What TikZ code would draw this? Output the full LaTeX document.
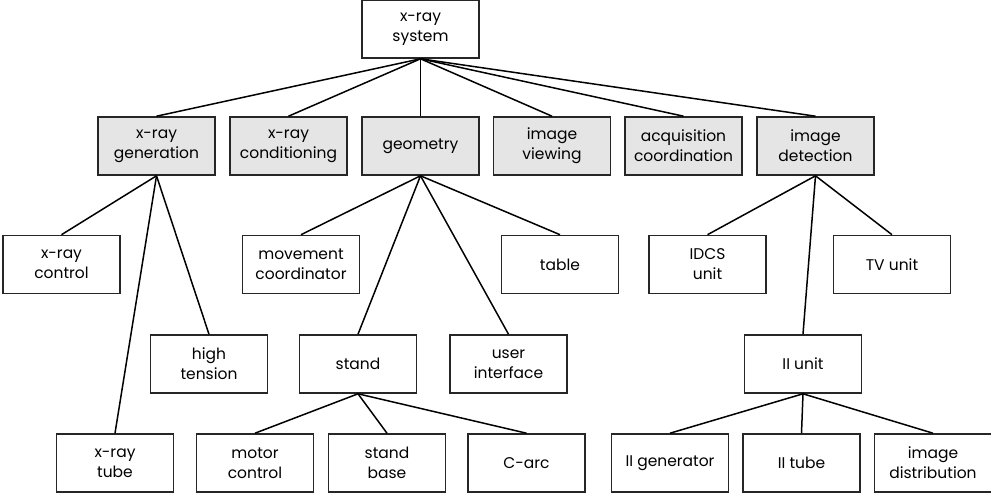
\documentclass[tikz,border=0pt]{standalone}
\usepackage{fontspec}
\setmainfont{Poppins}
\usepackage{tikz}
\usetikzlibrary{positioning}

\begin{document}
\begin{tikzpicture}[x=1pt,y=-1pt,
  unit/.style={draw=black!85,line width=1.6pt,minimum width=117pt,minimum height=58pt,
    inner sep=1pt,align=center,font=\fontsize{15.5}{20}\selectfont},
  group/.style={unit,fill=black!10},
  link/.style={line width=1.5pt}]
\useasboundingbox (0,0) rectangle (991,496);
%top
\node[unit]  (sys)  at (420.5,29) {x-ray\\system};
%subsystems
\node[group] (gen)  at (156.5,146) {x-ray\\generation};
\node[group] (cond) at (288.5,146) {x-ray\\conditioning};
\node[group] (geo)  at (420.5,146) {geometry};
\node[group] (view) at (552,146)   {image\\viewing};
\node[group] (acq)  at (683.5,146) {acquisition\\coordination};
\node[group] (det)  at (815.5,146) {image\\detection};
%third row
\node[unit] (ctrl)  at (61.5,264.5) {x-ray\\control};
\node[unit] (move)  at (301,264.5)  {movement\\coordinator};
\node[unit] (tab)   at (560,264.5)  {table};
\node[unit] (idcs)  at (707.5,264.5) {IDCS\\unit};
\node[unit] (tv)    at (892,264.5)  {TV unit};
%fourth row
\node[unit] (ht)    at (209,364)    {high\\tension};
\node[unit] (stand) at (358,364)    {stand};
\node[unit] (ui)    at (508.5,364)  {user\\interface};
\node[unit] (ii)    at (803,364)    {II unit};
%bottom
\node[unit] (tube)  at (115,463)    {x-ray\\tube};
\node[unit] (motor) at (255,463)    {motor\\control};
\node[unit] (base)  at (387,463)    {stand\\base};
\node[unit] (carc)  at (526.5,463)  {C-arc};
\node[unit] (iigen) at (670,463)    {II generator};
\node[unit] (iitube) at (801.5,463) {II tube};
\node[unit] (dist)  at (933,463)    {image\\distribution};
%edges
\foreach \c in {gen,cond,geo,view,acq,det}
  \draw[link] (sys.south) -- (\c.north);
\foreach \c in {ctrl,ht,tube}
  \draw[link] (gen.south) -- (\c.north);
\foreach \c in {move,stand,ui,tab}
  \draw[link] (geo.south) -- (\c.north);
\foreach \c in {idcs,ii,tv}
  \draw[link] (det.south) -- (\c.north);
\foreach \c in {motor,base,carc}
  \draw[link] (stand.south) -- (\c.north);
\foreach \c in {iigen,iitube,dist}
  \draw[link] (ii.south) -- (\c.north);
\end{tikzpicture}
\end{document}
